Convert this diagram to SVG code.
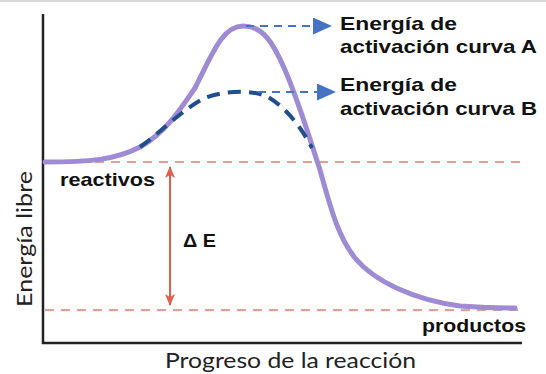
<svg xmlns="http://www.w3.org/2000/svg" width="546" height="374" viewBox="0 0 546 374">
<style>
.lbl{font-family:"Liberation Sans",Arial,sans-serif;font-weight:bold;font-size:19px;fill:#111}
.ax{font-family:Lato,"Liberation Sans",sans-serif;font-size:21px;fill:#222}
.ref{stroke:#d98070;stroke-width:1.6;stroke-dasharray:9 7;fill:none}
.blu{stroke:#4472c4;stroke-width:2;stroke-dasharray:8 6;fill:none}
</style>
<defs>
<marker id="tri" viewBox="0 0 19 17" refX="0" refY="8.5" markerWidth="19" markerHeight="17" markerUnits="userSpaceOnUse" orient="auto">
<path d="M0,0 L19,8.5 L0,17 Z" fill="#4472c4"/>
</marker>
<marker id="red" viewBox="0 0 12 10" refX="11" refY="5" markerWidth="12" markerHeight="10" markerUnits="userSpaceOnUse" orient="auto-start-reverse">
<path d="M0,0 L12,5 L0,10 L3,5 Z" fill="#e0604f"/>
</marker>
</defs>
<rect width="546" height="374" fill="#fff"/>
<line x1="0" y1="1" x2="546" y2="1" stroke="#d8d8d8" stroke-width="2"/>
<g id="axes" stroke="#222" stroke-width="2.5" fill="none">
<line x1="43" y1="14" x2="43" y2="344"/>
<line x1="42" y1="343" x2="522" y2="343"/>
</g>
<g id="levels">
<line class="ref" x1="95" y1="162" x2="522" y2="162"/>
<line class="ref" x1="45" y1="310" x2="522" y2="310"/>
</g>
<g id="curve-a">
<path d="M45,162 C90,162 115,160 140,147 C165,133 180,110 195,88 C212,55 222,26 243,26 C262,26 272,40 285,70 C300,105 310,140 320,170 C330,205 337,235 355,258 C375,282 415,300 460,306 C490,308 500,308 515,308" fill="none" stroke="#9e8bd4" stroke-width="5" stroke-linecap="round"/>
</g>
<g id="curve-b">
<path d="M140,147 C160,133 185,107 205,98 C225,90 255,90 268,97 C285,107 300,125 312,148" fill="none" stroke="#1f4e8c" stroke-width="4" stroke-dasharray="13 8"/>
</g>
<g id="connectors">
<line class="blu" x1="246" y1="26" x2="313" y2="26" marker-end="url(#tri)"/>
<line class="blu" x1="258" y1="92" x2="317" y2="92" marker-end="url(#tri)"/>
<line x1="170" y1="167" x2="170" y2="305" stroke="#e0604f" stroke-width="2" marker-start="url(#red)" marker-end="url(#red)"/>
</g>
<g id="label-a">
<text class="lbl" x="340" y="30" textLength="117" lengthAdjust="spacingAndGlyphs">Energía de</text>
<text class="lbl" x="340" y="53" textLength="197" lengthAdjust="spacingAndGlyphs">activación curva A</text>
</g>
<g id="label-b">
<text class="lbl" x="340" y="91" textLength="117" lengthAdjust="spacingAndGlyphs">Energía de</text>
<text class="lbl" x="340" y="115" textLength="197" lengthAdjust="spacingAndGlyphs">activación curva B</text>
</g>
<g id="reactivos"><text class="lbl" x="60" y="186" textLength="95" lengthAdjust="spacingAndGlyphs">reactivos</text></g>
<g id="delta"><text class="lbl" x="183" y="247" font-size="20" textLength="33" lengthAdjust="spacingAndGlyphs">Δ E</text></g>
<g id="productos"><text class="lbl" x="422" y="332" textLength="104" lengthAdjust="spacingAndGlyphs">productos</text></g>
<g id="x-title"><text class="ax" x="165" y="368" textLength="251" lengthAdjust="spacingAndGlyphs">Progreso de la reacción</text></g>
<g id="y-title"><text class="ax" transform="translate(32,307) rotate(-90)" textLength="136" lengthAdjust="spacingAndGlyphs">Energía libre</text></g>
</svg>
